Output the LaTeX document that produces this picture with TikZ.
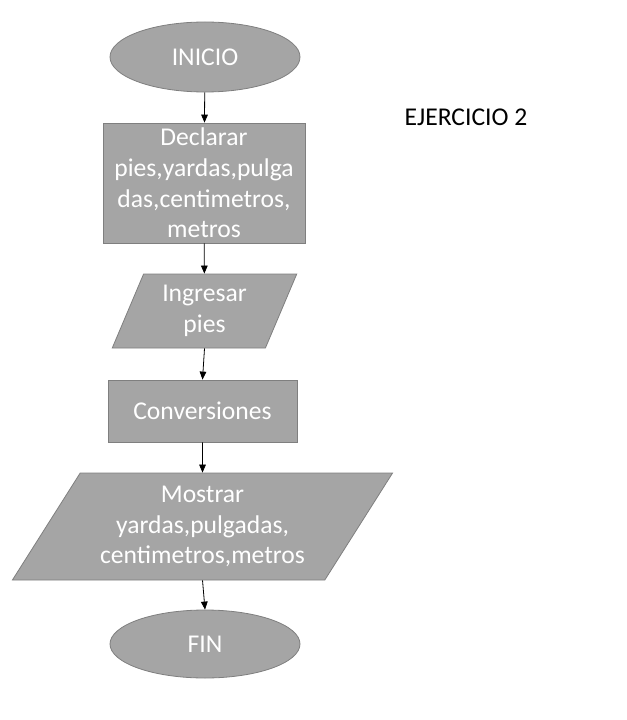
\documentclass[tikz,border=0pt]{standalone}
\usepackage{fontspec}
\setmainfont{Carlito}
\usetikzlibrary{shapes.geometric,arrows.meta}

\definecolor{cajagris}{HTML}{A5A5A5}
\definecolor{bordegris}{HTML}{7F7F7F}

\tikzset{
    bloque/.style={fill=cajagris, draw=bordegris, line width=0.6pt, text=white,
        font=\fontsize{19.2}{23}\selectfont, align=center, inner sep=0pt},
    terminal/.style={bloque, ellipse},
    proceso/.style={bloque, rectangle},
    datos/.style={bloque, trapezium, trapezium stretches=true},
    flecha/.style={-{Triangle[width=5pt,length=6pt]}, line width=0.6pt}
}

\begin{document}
\begin{tikzpicture}[x=0.75pt, y=-0.75pt]
    \useasboundingbox (0,0) rectangle (626,720);

    % Nodos del diagrama
    \node [terminal, minimum width=142.5pt, minimum height=52.5pt] (inicio) at (205,57) {INICIO};
    \node [proceso, minimum width=151.5pt, minimum height=90pt] (declarar) at (204,183)
        {Declarar\\pies,yardas,pulga\\das,centimetros,\\metros};
    \node [datos, trapezium left angle=67, trapezium right angle=113,
        minimum width=138.75pt, minimum height=55.5pt] (ingresar) at (204.5,311) {Ingresar\\pies};
    \node [proceso, minimum width=141.75pt, minimum height=46.5pt] (conv) at (202.5,411) {Conversiones};
    \node [datos, trapezium left angle=55, trapezium right angle=125,
        minimum width=285.75pt, minimum height=80.25pt] (mostrar) at (202.5,526.5)
        {Mostrar\\yardas,pulgadas,\\centimetros,metros};
    \node [terminal, minimum width=142.5pt, minimum height=51pt] (fin) at (205,644) {FIN};

    \node [font=\fontsize{19.2}{23}\selectfont] (titulo) at (466,117) {EJERCICIO 2};

    % Flechas
    \draw[flecha] (inicio) -- (declarar);
    \draw[flecha] (declarar) -- (ingresar);
    \draw[flecha] (ingresar.south) -- (conv.north);
    \draw[flecha] (conv) -- (mostrar);
    \draw[flecha] (mostrar.south) -- (fin.north);
\end{tikzpicture}
\end{document}
